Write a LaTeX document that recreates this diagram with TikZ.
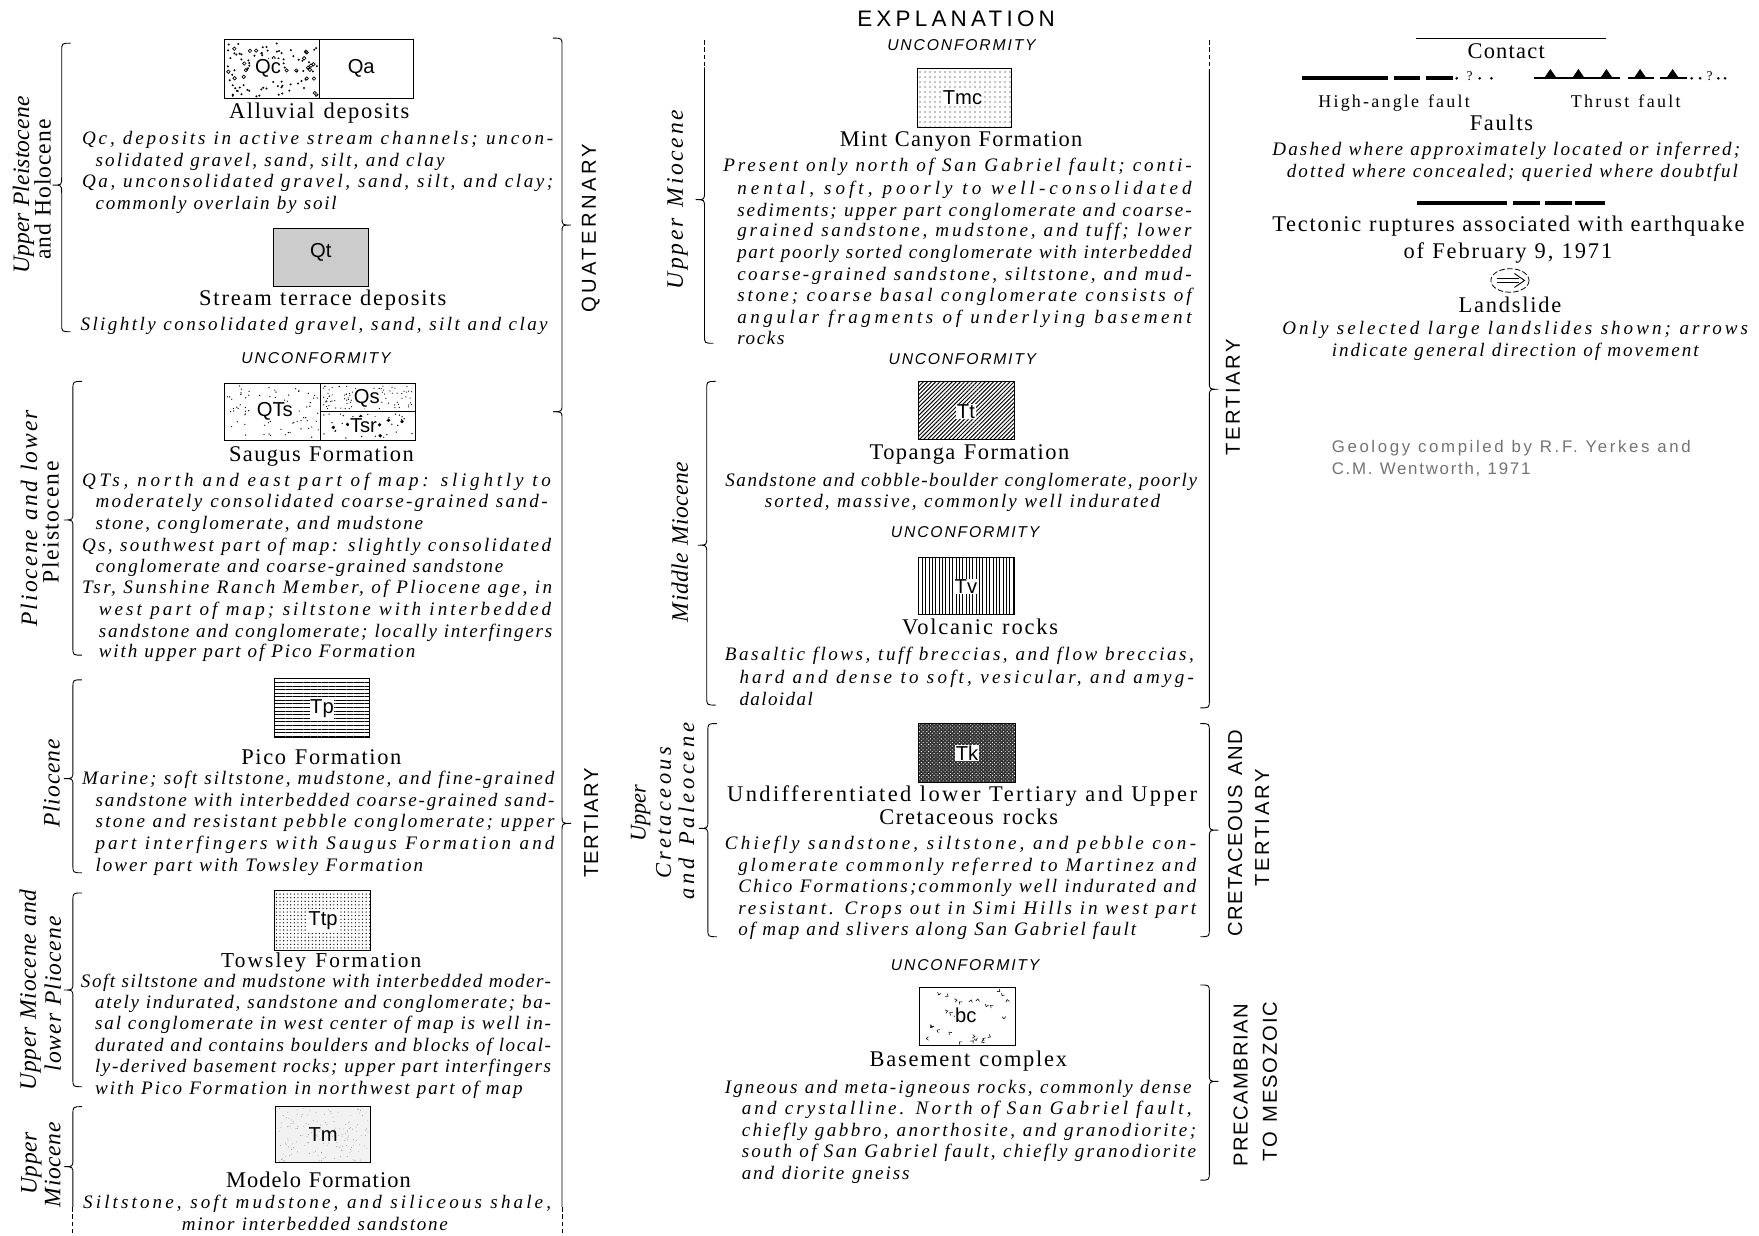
\documentclass[tikz,border=0pt]{standalone}
\usepackage{fontspec}
\usepackage{graphicx}
\usetikzlibrary{patterns,patterns.meta}
\newfontfamily\serifF{Liberation Serif}
\newfontfamily\sansF{Liberation Sans}
\makeatletter
\newsavebox\jlbox
\newdimen\jlw
\newdimen\jlnat
\ExplSyntaxOn
\cs_new:Npn \jlcount #1 { \tl_count:n {#1} }
\ExplSyntaxOff
\newcommand\fit[2]{%
  \begingroup
  \pgfmathsetmacro\jltarget{#1}%
  \sbox\jlbox{#2}\jlnat=\wd\jlbox
  \edef\jln{\jlcount{#2}}%
  \pgfmathsetmacro\jlls{round((\jltarget-\jlnat)/\jln/\f@size*1000)/10}%
  \addfontfeature{LetterSpace=\jlls}%
  \sbox\jlbox{#2}%
  \jlw=\jltarget pt\relax
  \ifdim\wd\jlbox>\jlw
    \resizebox{\jlw}{\ht\jlbox}{\usebox\jlbox}%
  \else
    \makebox[\jlw][s]{#2}%
  \fi
  \endgroup}
\makeatother
\tikzset{
 dsc/.style={font=\serifF\itshape\fontsize{17}{19}\selectfont, inner sep=0pt},
 ttl/.style={font=\serifF\fontsize{20}{22}\selectfont, inner sep=0pt},
 ttlb/.style={font=\serifF\fontsize{20}{22}\selectfont, inner sep=0pt},
 ttls/.style={font=\serifF\fontsize{16}{18}\selectfont, inner sep=0pt},
 unc/.style={font=\sansF\itshape\fontsize{14}{16}\selectfont, inner sep=0pt},
 per/.style={font=\sansF\fontsize{18}{20}\selectfont, inner sep=0pt},
 epo/.style={font=\serifF\itshape\fontsize{21}{23}\selectfont, inner sep=0pt},
 eposm/.style={font=\serifF\itshape\fontsize{20}{22}\selectfont, inner sep=0pt},
 epr/.style={font=\serifF\fontsize{21}{23}\selectfont, inner sep=0pt},
 geo/.style={font=\sansF\fontsize{15}{17}\selectfont, inner sep=0pt, text=black!55},
 lab/.style={font=\sansF\fontsize{18}{18}\selectfont, inner sep=0.6pt},
 labw/.style={lab, fill=white},
 unitbox/.style={draw, line width=0.9pt},
 br/.style={line width=0.8pt},
 brd/.style={line width=0.8pt, dash pattern=on 4pt off 2.5pt},
 fault/.style={line width=2.8pt},
}
\newcommand\TX[6]{\node[#1,anchor=base west] (#2) at (#3,#5) {\fit{#4-#3}{#6}};}
\newcommand\RT[6]{\node[#1,rotate=90] (#2) at (#3,#4) {\fit{#5}{#6}};}
% left brace "{": spine x, top, tip, bottom
\newcommand\LBr[4]{\draw[br] ({#1+8},#2) .. controls (#1,#2) .. (#1,{#2+7}) -- (#1,{#3-7}) .. controls (#1,#3) .. ({#1-8},#3) .. controls (#1,#3) .. (#1,{#3+7}) -- (#1,{#4-7}) .. controls (#1,#4) .. ({#1+8},#4);}
% right brace "}"
\newcommand\RBr[4]{\draw[br] ({#1-8},#2) .. controls (#1,#2) .. (#1,{#2+7}) -- (#1,{#3-7}) .. controls (#1,#3) .. ({#1+8},#3) .. controls (#1,#3) .. (#1,{#3+7}) -- (#1,{#4-7}) .. controls (#1,#4) .. ({#1-8},#4);}
\begin{document}
\begin{tikzpicture}[x=1pt,y=-1pt]
\useasboundingbox[fill=white] (0,0) rectangle (1568,1101);
\pgfmathsetseed{42}
% ================= TITLE
\TX{font=\sansF\fontsize{20}{22}\selectfont, inner sep=0pt}{title}{764}{944}{24}{EXPLANATION}

% ================= LEFT COLUMN
% --- Alluvial deposits
\foreach \i in {1,...,85}{\pgfmathsetmacro\px{202+81*rnd}\pgfmathsetmacro\py{38+48*rnd}\fill (\px,\py) circle (1.0);}
\foreach \i in {1,...,22}{\pgfmathsetmacro\px{203+79*rnd}\pgfmathsetmacro\py{39+46*rnd}\draw[line width=0.6pt] (\px,\py) circle (1.5);}
\draw[unitbox] (200,35.6) rectangle (369,87.7);
\draw[line width=0.9pt] (285,35.6) -- (285,87.7);
\node[labw] (lqc) at (239,61) {Qc};
\node[lab] (lqa) at (322,61) {Qa};
\TX{ttl}{tall}{204}{364.6}{105.6}{Alluvial deposits}
\TX{dsc}{qc1}{73}{493}{129}{Qc, deposits in active stream channels; uncon-}
\TX{dsc}{qc2}{85}{396}{148}{solidated gravel, sand, silt, and clay}
\TX{dsc}{qa1}{73}{493}{167}{Qa, unconsolidated gravel, sand, silt, and clay;}
\TX{dsc}{qa2}{85}{300}{186.8}{commonly overlain by soil}
% --- Stream terrace
\draw[unitbox, fill=black!20] (244,204) rectangle (328.5,255);
\node[lab] (lqt) at (286,225) {Qt};
\TX{ttl}{tstr}{177.4}{397.6}{272}{Stream terrace deposits}
\TX{dsc}{sl}{71.6}{488}{295}{Slightly consolidated gravel, sand, silt and clay}
\TX{unc}{u1}{215}{349.6}{324}{UNCONFORMITY}
% --- Saugus
\foreach \i in {1,...,80}{\pgfmathsetmacro\px{202+82*rnd}\pgfmathsetmacro\py{344+46*rnd}\fill (\px,\py) circle (0.6);}
\foreach \i in {1,...,100}{\pgfmathsetmacro\px{288+80*rnd}\pgfmathsetmacro\py{343.5+21*rnd}\fill (\px,\py) circle (0.55);}
\foreach \i in {1,...,40}{\pgfmathsetmacro\px{288+80*rnd}\pgfmathsetmacro\py{368.5+22*rnd}\fill (\px,\py) circle (0.65);}
\foreach \i in {1,...,8}{\pgfmathsetmacro\px{290+76*rnd}\pgfmathsetmacro\py{371+18*rnd}\fill (\px,\py) circle (1.6);}
\draw[unitbox] (200,341.6) rectangle (370,392.4);
\draw[line width=0.9pt] (286,341.6) -- (286,392.4) (286,366.5) -- (370,366.5);
\node[labw] (lqts) at (245,367) {QTs};
\node[labw] (lqs) at (327,355) {Qs};
\node[labw] (ltsr) at (324,379) {Tsr};
\TX{ttl}{tsau}{204}{368.6}{411.6}{Saugus Formation}
\TX{dsc}{qts1}{73}{491}{433.4}{QTs, north and east part of map: slightly to}
\TX{dsc}{qts2}{85}{488}{452.6}{moderately consolidated coarse-grained sand-}
\TX{dsc}{qts3}{85}{377}{472}{stone, conglomerate, and mudstone}
\TX{dsc}{qs1}{73}{491}{491.7}{Qs, southwest part of map: slightly consolidated}
\TX{dsc}{qs2}{85}{448.6}{510.6}{conglomerate and coarse-grained sandstone}
\TX{dsc}{tsr1}{73}{492}{529}{Tsr, Sunshine Ranch Member, of Pliocene age, in}
\TX{dsc}{tsr2}{88}{491}{548.6}{west part of map; siltstone with interbedded}
\TX{dsc}{tsr3}{88}{492}{568}{sandstone and conglomerate; locally interfingers}
\TX{dsc}{tsr4}{88}{370}{586.4}{with upper part of Pico Formation}
% --- Pico
\draw[unitbox, pattern={Lines[distance=3.2pt, line width=0.6pt]}] (245,604.6) rectangle (329,657);
\node[labw] (ltp) at (287,632) {Tp};
\TX{ttl}{tpic}{215}{357.6}{681.9}{Pico Formation}
\TX{dsc}{p1}{73}{494}{699.3}{Marine; soft siltstone, mudstone, and fine-grained}
\TX{dsc}{p2}{85}{494}{718.6}{sandstone with interbedded coarse-grained sand-}
\TX{dsc}{p3}{85}{494}{738}{stone and resistant pebble conglomerate; upper}
\TX{dsc}{p4}{85}{494}{757.3}{part interfingers with Saugus Formation and}
\TX{dsc}{p5}{85}{377}{776.6}{lower part with Towsley Formation}
% --- Towsley
\draw[unitbox, pattern={Dots[distance=3.2pt, radius=0.6pt]}] (245,793.4) rectangle (330,846.9);
\node[labw] (lttp) at (288,821) {Ttp};
\node[font=\serifF\fontsize{19}{21}\selectfont, inner sep=0pt, anchor=base west] (ttow) at (197,862.5) {\fit{178.4}{Towsley Formation}};
\TX{dsc}{t1}{72}{491}{880}{Soft siltstone and mudstone with interbedded moder-}
\TX{dsc}{t2}{84.6}{491}{899}{ately indurated, sandstone and conglomerate; ba-}
\TX{dsc}{t3}{84.6}{491}{918}{sal conglomerate in west center of map is well in-}
\TX{dsc}{t4}{84.6}{491}{937.2}{durated and contains boulders and blocks of local-}
\TX{dsc}{t5}{84.6}{491}{956.4}{ly-derived basement rocks; upper part interfingers}
\TX{dsc}{t6}{84.6}{465.7}{975.7}{with Pico Formation in northwest part of map}
% --- Modelo
\fill[black!5] (246,986.5) rectangle (330,1036.5);
\foreach \i in {1,...,160}{\pgfmathsetmacro\px{248+80*rnd}\pgfmathsetmacro\py{988+47*rnd}\fill[black!45] (\px,\py) circle (0.4);}
\draw[unitbox] (246,986.5) rectangle (330,1036.5);
\node[lab] (ltm) at (288,1011) {Tm};
\TX{ttl}{tmod}{201.3}{366}{1058.5}{Modelo Formation}
\TX{dsc}{m1}{74}{491}{1077}{Siltstone, soft mudstone, and siliceous shale,}
\TX{dsc}{m2}{162}{399}{1096.6}{minor interbedded sandstone}
% --- left braces (epochs)
\LBr{55}{38.5}{165}{295.7}
\LBr{65}{340}{463.5}{584}
\LBr{65}{606}{694}{778}
\LBr{65}{796}{882.5}{968.7}
\draw[br] (73,986.5) .. controls (65,986.5) .. (65,993.5) -- (65,1033) .. controls (65,1040) .. (57,1040) .. controls (65,1040) .. (65,1047) -- (65,1076);
\draw[brd] (65,1076) -- (65,1101);
\RT{epo}{e1a}{21}{165}{158}{Upper Pleistocene}
\RT{epr}{e1b}{38}{169}{125}{and Holocene}
\RT{epo}{e2a}{26}{462}{193}{Pliocene and lower}
\RT{epr}{e2b}{45}{465}{110}{Pleistocene}
\RT{epo}{e3}{46}{698}{80}{Pliocene}
\RT{epo}{e4a}{27}{882.5}{179}{Upper Miocene and}
\RT{epo}{e4b}{47}{886}{138}{lower Pliocene}
\RT{epo}{e5a}{28}{1037}{56}{Upper}
\RT{epo}{e5b}{47}{1038}{76}{Miocene}
% --- right braces (periods)
\RBr{501}{34}{200.6}{367}
\draw[br] (493,367) .. controls (501,367) .. (501,374) -- (501,727) .. controls (501,734) .. (509,734) .. controls (501,734) .. (501,741) -- (501,1076);
\draw[brd] (501,1076) -- (501,1101);
\RT{per}{pq}{526.5}{202}{154}{QUATERNARY}
\RT{per}{pt1}{527}{733}{99}{TERTIARY}

% ================= MIDDLE COLUMN
\TX{unc}{u2}{790.7}{924.6}{45}{UNCONFORMITY}
\draw[unitbox, pattern={Dots[distance=4pt, radius=0.55pt]}] (817.6,61) rectangle (902,114);
\node[labw] (ltmc) at (858,87) {Tmc};
\TX{ttl}{tmin}{748.5}{964.6}{130.8}{Mint Canyon Formation}
\TX{dsc}{mc1}{644.6}{1062}{152.6}{Present only north of San Gabriel fault; conti-}
\TX{dsc}{mc2}{657}{1062}{173.4}{nental, soft, poorly to well-consolidated}
\TX{dsc}{mc3}{657}{1062}{192.7}{sediments; upper part conglomerate and coarse-}
\TX{dsc}{mc4}{657}{1062}{210.5}{grained sandstone, mudstone, and tuff; lower}
\TX{dsc}{mc5}{657}{1062}{230.4}{part poorly sorted conglomerate with interbedded}
\TX{dsc}{mc6}{657}{1062}{250}{coarse-grained sandstone, siltstone, and mud-}
\TX{dsc}{mc7}{657}{1062}{269}{stone; coarse basal conglomerate consists of}
\TX{dsc}{mc8}{657}{1062}{288.7}{angular fragments of underlying basement}
\TX{dsc}{mc9}{657}{700.6}{307}{rocks}
\TX{unc}{u3}{792}{925}{325}{UNCONFORMITY}
% --- Topanga
\draw[unitbox, pattern={Lines[angle=45, distance=2.6pt, line width=0.9pt]}] (819,340) rectangle (904,392);
\node[labw] (ltt) at (861,367) {Tt};
\TX{ttl}{ttop}{775}{953}{410}{Topanga Formation}
\TX{dsc}{tp1}{646.4}{1066.8}{434}{Sandstone and cobble-boulder conglomerate, poorly}
\TX{dsc}{tp2}{681.6}{1034}{452}{sorted, massive, commonly well indurated}
\TX{unc}{u4}{794}{928}{479}{UNCONFORMITY}
% --- Volcanic
\draw[unitbox, pattern={Lines[angle=90, distance=3pt, line width=0.5pt]}] (819,496.8) rectangle (904,548.2);
\node[labw] (ltv) at (861,523) {Tv};
\TX{ttl}{tvol}{804}{943}{566}{Volcanic rocks}
\TX{dsc}{v1}{646}{1064}{589}{Basaltic flows, tuff breccias, and flow breccias,}
\TX{dsc}{v2}{659}{1064}{609}{hard and dense to soft, vesicular, and amyg-}
\TX{dsc}{v3}{659}{725.6}{628.6}{daloidal}
% --- Tk
\fill[black!80] (819,644.8) rectangle (905,697.7);
\fill[pattern={Dots[distance=2.3pt, radius=0.55pt, angle=45]}, pattern color=white] (819,644.8) rectangle (905,697.7);
\draw[unitbox] (819,644.8) rectangle (905,697.7);
\node[labw] (ltk) at (862,671) {Tk};
\TX{ttl}{tund}{648}{1066.8}{714.7}{Undifferentiated lower Tertiary and Upper}
\TX{ttl}{tcre}{783.6}{943}{735.4}{Cretaceous rocks}
\TX{dsc}{k1}{646}{1066}{757.3}{Chiefly sandstone, siltstone, and pebble con-}
\TX{dsc}{k2}{658}{1066}{776.6}{glomerate commonly referred to Martinez and}
\TX{dsc}{k3}{658}{1066}{795.8}{Chico Formations;commonly well indurated and}
\TX{dsc}{k4}{658}{1066}{815}{resistant. Crops out in Simi Hills in west part}
\TX{dsc}{k5}{658}{1012.6}{833.6}{of map and slivers along San Gabriel fault}
\TX{unc}{u5}{794}{928}{865}{UNCONFORMITY}
% --- Basement complex
\foreach \i in {1,...,30}{\pgfmathsetmacro\px{823+79*rnd}\pgfmathsetmacro\py{883+46*rnd}\pgfmathsetmacro\pa{360*rnd}\draw[line width=0.5pt] (\px,\py) ++(\pa:2.6) -- (\px,\py) -- ++({\pa+75}:2.6);}
\draw[unitbox] (820,880) rectangle (905,931.6);
\node[labw] (lbc) at (861,905) {bc};
\TX{ttl}{tbas}{775}{951}{951}{Basement complex}
\TX{dsc}{b1}{646}{1062}{975}{Igneous and meta-igneous rocks, commonly dense}
\TX{dsc}{b2}{661}{1062}{993.5}{and crystalline. North of San Gabriel fault,}
\TX{dsc}{b3}{661}{1066}{1012.8}{chiefly gabbro, anorthosite, and granodiorite;}
\TX{dsc}{b4}{661}{1066}{1032}{south of San Gabriel fault, chiefly granodiorite}
\TX{dsc}{b5}{661}{810.6}{1051.4}{and diorite gneiss}
% --- middle left braces
\draw[brd] (628,35.7) -- (628,60);
\draw[br] (628,60) -- (628,171) .. controls (628,178) .. (620,178) .. controls (628,178) .. (628,185) -- (628,299) .. controls (628,306) .. (636,306);
\LBr{630}{340}{486}{628.5}
\LBr{631}{645}{738.4}{835}
\RT{epo}{e6}{604}{178}{160}{Upper Miocene}
\RT{epo}{e7}{606}{483}{143}{Middle Miocene}
\RT{eposm}{e8a}{571}{725}{50}{Upper}
\RT{eposm}{e8b}{591.5}{723}{120}{Cretaceous}
\RT{eposm}{e8c}{612}{723}{158}{and Paleocene}
% --- middle right braces
\draw[brd] (1078,35.7) -- (1078,62);
\draw[br] (1078,62) -- (1078,340) .. controls (1078,347) .. (1086,347) .. controls (1078,347) .. (1078,354) -- (1078,624) .. controls (1078,631) .. (1070,631);
\RBr{1078}{645}{740}{835}
\RBr{1078}{878}{964}{1052}
\RT{per}{pt2}{1099}{353}{106}{TERTIARY}
\RT{per}{pc1}{1101}{743}{184}{CRETACEOUS AND}
\RT{per}{pc2}{1125}{737}{107}{TERTIARY}
\RT{per}{pp1}{1106}{967}{146}{PRECAMBRIAN}
\RT{per}{pp2}{1132}{964}{142}{TO MESOZOIC}

% ================= RIGHT COLUMN
\draw[line width=1pt] (1262,34) -- (1432,34);
\TX{ttl}{tcon}{1308}{1378}{52.5}{Contact}
% high-angle fault
\draw[fault] (1161,69.5) -- (1237,69.5);
\draw[fault] (1243,69.5) -- (1266,69.5);
\draw[fault] (1271,69.5) -- (1295,69.5);
\fill (1298.5,69.8) circle (1.3) (1319,69.8) circle (1.3) (1329.5,69.8) circle (1.3);
\node[font=\serifF\fontsize{12}{12}\selectfont, inner sep=0pt] (q1) at (1310,68) {?};
% thrust fault
\draw[line width=2.2pt] (1367,69.5) -- (1444,69.5);
\draw[line width=2.2pt] (1451,69.5) -- (1474,69.5);
\draw[line width=2.2pt] (1480,69.5) -- (1504,69.5);
\foreach \c in {1382,1407,1432,1462,1491}{\fill (\c-5.5,69.5) -- (\c,61.5) -- (\c+5.5,69.5) -- cycle;}
\fill (1508,69.8) circle (1.3) (1515.5,69.8) circle (1.3) (1531.7,69.8) circle (1.3) (1537.7,69.8) circle (1.3);
\node[font=\serifF\fontsize{12}{12}\selectfont, inner sep=0pt] (q2) at (1524,68) {?};
\TX{ttls}{thaf}{1175}{1310}{96}{High-angle fault}
\TX{ttls}{ttf}{1400}{1498}{96}{Thrust fault}
\TX{ttl}{tfau}{1310}{1368}{116}{Faults}
\TX{dsc}{d1}{1134}{1551}{138.5}{Dashed where approximately located or inferred;}
\TX{dsc}{d2}{1147}{1549}{158}{dotted where concealed; queried where doubtful}
% tectonic ruptures
\draw[line width=3.5pt] (1263,181) -- (1343,181);
\draw[line width=3.5pt] (1349,181) -- (1373,181);
\draw[line width=3.5pt] (1377,181) -- (1401,181);
\draw[line width=3.5pt] (1404,181) -- (1431,181);
\TX{ttlb}{tec1}{1134}{1555}{206.5}{Tectonic ruptures associated with earthquake}
\TX{ttlb}{tec2}{1251}{1437}{230}{of February 9, 1971}
% landslide symbol
\draw[line width=0.7pt, dash pattern=on 5pt off 2pt] (1346,250) ellipse (17 and 10.5);
\draw[line width=0.8pt] (1334,247.8) -- (1354,247.8) (1334,252.2) -- (1354,252.2);
\draw[line width=0.8pt] (1350,243.8) -- (1359,250) -- (1350,256.2);
\TX{ttlb}{tlan}{1300}{1393}{278.7}{Landslide}
\TX{dsc}{o1}{1143}{1558}{298.5}{Only selected large landslides shown; arrows}
\TX{dsc}{o2}{1187}{1514}{317.6}{indicate general direction of movement}
\TX{geo}{g1}{1187}{1507}{403.5}{Geology compiled by R.F. Yerkes and}
\TX{geo}{g2}{1187}{1364}{422.6}{C.M. Wentworth, 1971}
\end{tikzpicture}
\end{document}
